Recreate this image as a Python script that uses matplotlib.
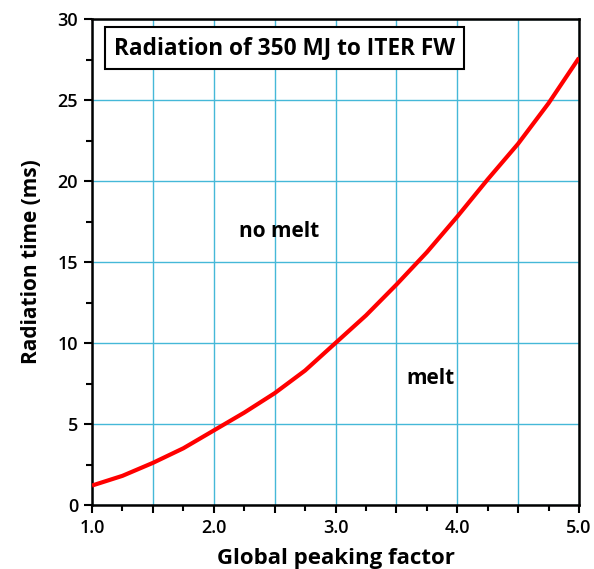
import matplotlib
matplotlib.use('Agg')
import matplotlib.pyplot as plt
from matplotlib.ticker import MultipleLocator, FuncFormatter

# data
peaking = [1.0, 1.25, 1.5, 1.75, 2.0, 2.25, 2.5, 2.75, 3.0, 3.25, 3.5, 3.75, 4.0, 4.25, 4.5, 4.75, 5.0]
rad_time = [1.2, 1.8, 2.6, 3.5, 4.6, 5.7, 6.9, 8.3, 10.0, 11.7, 13.6, 15.6, 17.8, 20.1, 22.3, 24.8, 27.6]

title = 'Radiation of 350 MJ to ITER FW'

plt.rcParams['font.family'] = ['Open Sans', 'DejaVu Sans']

fig = plt.figure(figsize=(5.94, 5.69), dpi=100)
ax = fig.add_axes([92/594, 64/569, 487/594, 486/569])

grid_col = '#45b8d8'
ax.set_xlim(1.0, 5.0)
ax.set_ylim(0, 30)
ax.xaxis.set_major_locator(MultipleLocator(0.5))
ax.xaxis.set_minor_locator(MultipleLocator(0.25))
ax.yaxis.set_major_locator(MultipleLocator(5))
ax.yaxis.set_minor_locator(MultipleLocator(2.5))
ax.xaxis.set_major_formatter(FuncFormatter(lambda v, p: '%.1f' % v if abs(v - round(v)) < 1e-6 else ''))
ax.grid(True, which='major', color=grid_col, lw=1.0)
ax.set_axisbelow(True)

ax.plot(peaking, rad_time, color='#ff0000', lw=3, solid_capstyle='butt', solid_joinstyle='round', zorder=3)

ax.tick_params(which='major', direction='out', length=6, width=1.5, labelsize=13, pad=4)
ax.tick_params(which='minor', direction='out', length=4, width=1.5)
for lab in ax.get_xticklabels() + ax.get_yticklabels():
    lab.set_fontweight('semibold')
for s in ax.spines.values():
    s.set_linewidth(1.8)

ax.set_xlabel('Global peaking factor', fontsize=16, fontweight='bold', labelpad=8)
ax.set_ylabel('Radiation time (ms)', fontsize=15, fontweight='bold', labelpad=11)

ax.text(0.045, 0.94, title, transform=ax.transAxes, fontsize=16.3, fontweight='bold',
        va='center', ha='left',
        bbox=dict(boxstyle='square,pad=0.4', fc='white', ec='black', lw=1.5), zorder=5)

ax.text(2.54, 16.9, 'no melt', fontsize=15, fontweight='bold', ha='center', va='center')
ax.text(3.78, 7.8, 'melt', fontsize=15, fontweight='bold', ha='center', va='center')

fig.savefig('out.png', dpi=100)
